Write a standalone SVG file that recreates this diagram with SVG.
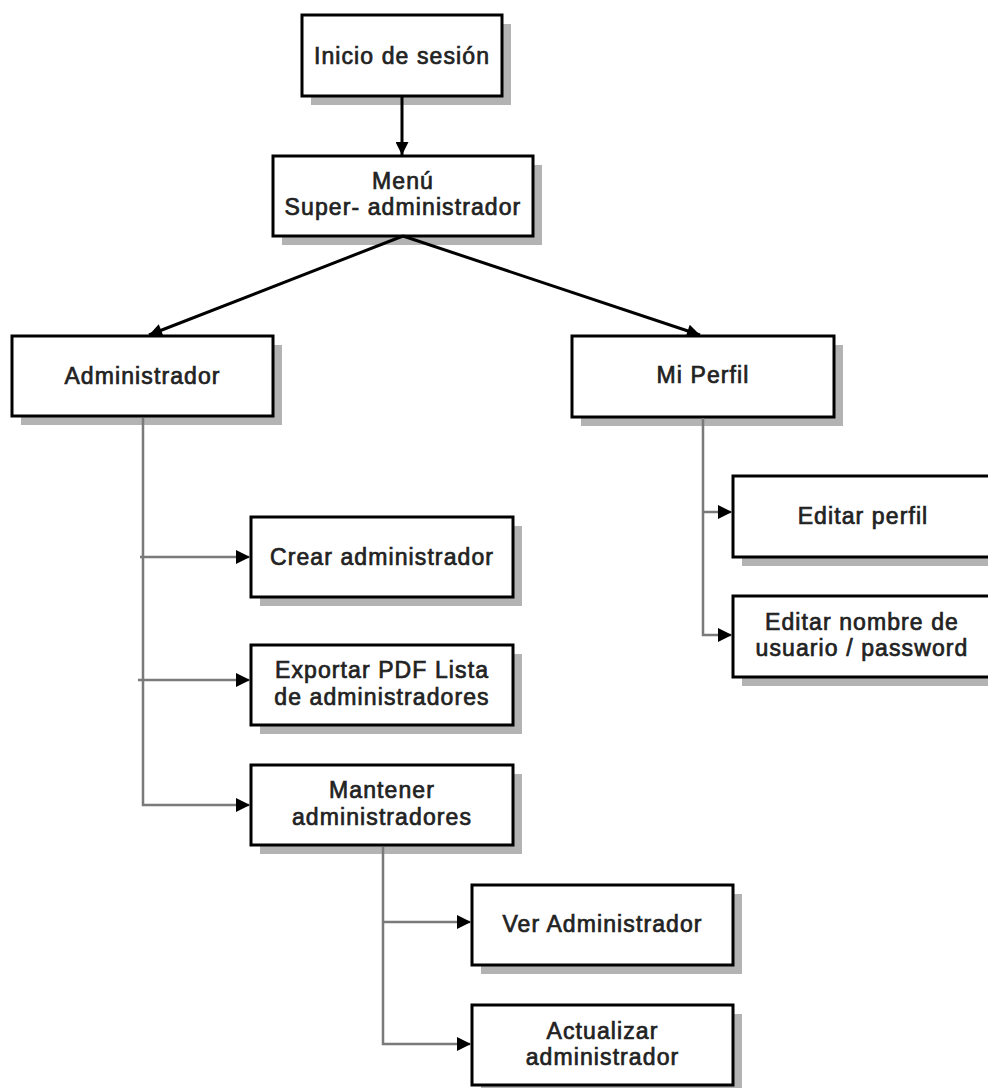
<svg xmlns="http://www.w3.org/2000/svg" width="988" height="1088" viewBox="0 0 988 1088">
<style>
.box{fill:#fff;stroke:#000;stroke-width:3}
.sh{fill:#b3b3b3}
.t{font-family:"Liberation Sans",Arial,sans-serif;font-size:23px;letter-spacing:1.1px;fill:#222;stroke:#222;stroke-width:0.7;text-anchor:middle}
.main{stroke:#000;stroke-width:3;fill:none}
.br{stroke:#7a7a7a;stroke-width:2.5;fill:none}
</style>
<defs>
<marker id="ah" viewBox="0 0 10 10" refX="10" refY="5" markerWidth="14" markerHeight="13" markerUnits="userSpaceOnUse" orient="auto">
<path d="M0,0 L10,5 L0,10 z" fill="#000"/>
</marker>
<marker id="ah2" viewBox="0 0 10 10" refX="10" refY="5" markerWidth="14" markerHeight="14" markerUnits="userSpaceOnUse" orient="auto">
<path d="M0,0 L10,5 L0,10 z" fill="#000"/>
</marker>
</defs>
<rect width="988" height="1088" fill="#fff"/>
<g id="inicio">
<rect class="sh" x="311" y="24" width="200" height="81"/>
<rect class="box" x="302" y="15" width="200" height="81"/>
<text class="t" x="402" y="64">Inicio de sesión</text>
</g>
<g id="menu">
<rect class="sh" x="282" y="165" width="260" height="80"/>
<rect class="box" x="273" y="156" width="260" height="80"/>
<text class="t" x="403" y="189">Menú</text>
<text class="t" x="403" y="215">Super- administrador</text>
</g>
<g id="administrador">
<rect class="sh" x="21" y="345" width="261" height="80"/>
<rect class="box" x="12" y="336" width="261" height="80"/>
<text class="t" x="142.5" y="384">Administrador</text>
</g>
<g id="miperfil">
<rect class="sh" x="581" y="345" width="262" height="81"/>
<rect class="box" x="572" y="336" width="262" height="81"/>
<text class="t" x="703" y="383">Mi Perfil</text>
</g>
<g id="editarperfil">
<rect class="sh" x="742" y="485" width="260" height="81"/>
<rect class="box" x="733" y="476" width="260" height="81"/>
<text class="t" x="863" y="524">Editar perfil</text>
</g>
<g id="editarnombre">
<rect class="sh" x="742" y="605" width="260" height="81"/>
<rect class="box" x="733" y="596" width="260" height="81"/>
<text class="t" x="862" y="630">Editar nombre de</text>
<text class="t" x="862" y="656">usuario / password</text>
</g>
<g id="crear">
<rect class="sh" x="260" y="526" width="262" height="80"/>
<rect class="box" x="251" y="517" width="262" height="80"/>
<text class="t" x="382" y="565">Crear administrador</text>
</g>
<g id="exportar">
<rect class="sh" x="260" y="654" width="262" height="80"/>
<rect class="box" x="251" y="645" width="262" height="80"/>
<text class="t" x="382" y="678">Exportar PDF Lista</text>
<text class="t" x="382" y="705">de administradores</text>
</g>
<g id="mantener">
<rect class="sh" x="260" y="774" width="262" height="80"/>
<rect class="box" x="251" y="765" width="262" height="80"/>
<text class="t" x="382" y="798">Mantener</text>
<text class="t" x="382" y="825">administradores</text>
</g>
<g id="ver">
<rect class="sh" x="481" y="894" width="261" height="80"/>
<rect class="box" x="472" y="885" width="261" height="80"/>
<text class="t" x="602.5" y="932">Ver Administrador</text>
</g>
<g id="actualizar">
<rect class="sh" x="481" y="1014" width="261" height="80"/>
<rect class="box" x="472" y="1005" width="261" height="80"/>
<text class="t" x="602.5" y="1039">Actualizar</text>
<text class="t" x="602.5" y="1065">administrador</text>
</g>
<g id="connectors">
<line class="main" x1="402" y1="97" x2="402" y2="155" marker-end="url(#ah)"/>
<line class="main" x1="403" y1="236" x2="149" y2="335" marker-end="url(#ah)"/>
<line class="main" x1="403" y1="236" x2="700" y2="335" marker-end="url(#ah)"/>
<polyline class="br" points="143,418 143,805 250,805" marker-end="url(#ah2)"/>
<line class="br" x1="140" y1="557" x2="250" y2="557" marker-end="url(#ah2)"/>
<line class="br" x1="138" y1="680" x2="250" y2="680" marker-end="url(#ah2)"/>
<polyline class="br" points="703,418 703,635 732,635" marker-end="url(#ah2)"/>
<line class="br" x1="703" y1="512" x2="732" y2="512" marker-end="url(#ah2)"/>
<polyline class="br" points="383,847 383,1044 471,1044" marker-end="url(#ah2)"/>
<line class="br" x1="383" y1="922" x2="471" y2="922" marker-end="url(#ah2)"/>
</g>
</svg>
